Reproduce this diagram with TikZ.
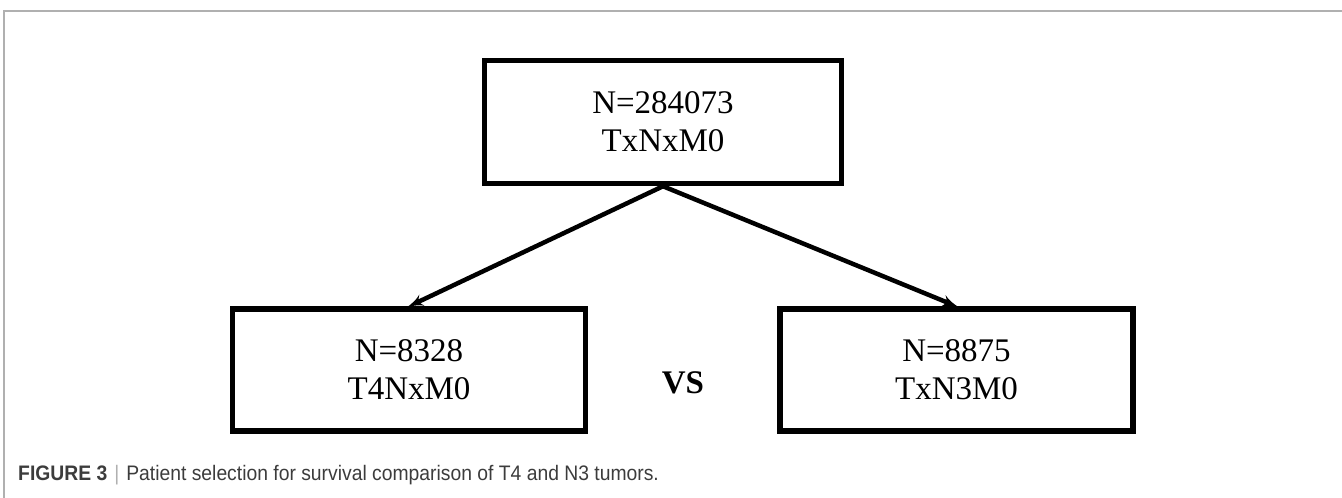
\documentclass[tikz,border=0pt]{standalone}
\usepackage{fontspec}
\setmainfont{Liberation Serif}
\newfontfamily\capfont[FakeStretch=0.92]{Liberation Sans}
\newfontfamily\capboldfont[FakeStretch=0.92]{Liberation Sans Bold}
\usetikzlibrary{shapes,arrows}
\definecolor{framegray}{RGB}{176,176,176}
\definecolor{captiongray}{RGB}{60,60,60}

\begin{document}
\begin{tikzpicture}[x=1pt, y=-1pt,
    block_center/.style ={rectangle, draw=black, line width=5.5pt, fill=white,
      align=center, inner sep=0pt, font=\fontsize{33}{38}\selectfont},
    block_top/.style ={block_center, minimum width=357pt, minimum height=123pt},
    block_bottom/.style ={block_center, minimum width=353pt, minimum height=122pt},
    block_clear/.style ={rectangle, draw=none, inner sep=0pt},
      line/.style ={draw, line width=4.5pt, -latex', shorten >=-2pt}]
    \useasboundingbox (0,0) rectangle (1342,498);
    % figure frame (top and left rules only)
    \draw [framegray, line width=1.5pt] (4,498) -- (4,11) -- (1342,11);
    % boxes
    \node [block_top] (all) at (663,122) {N=284073\\TxNxM0};
    \node [block_bottom] (t4) at (409,370) {N=8328\\T4NxM0};
    \node [block_bottom] (n3) at (956.5,370) {N=8875\\TxN3M0};
    \node [block_clear, font=\bfseries\fontsize{33}{38}\selectfont] (vs) at (683,383) {VS};
    % caption
    \node [block_clear, anchor=west, text=captiongray] (caption) at (18,475)
      {\fontsize{21}{24}\selectfont\capboldfont FIGURE 3\hspace{7pt}\textcolor{framegray}{\capfont|}\hspace{7pt}\capfont Patient selection for survival comparison of T4 and N3 tumors.};
    % connecting nodes with paths
    \begin{scope}[every path/.style=line]
      \path (all.south) -- (t4.north);
      \path (all.south) -- (n3.north);
    \end{scope}
  \end{tikzpicture}
\end{document}
